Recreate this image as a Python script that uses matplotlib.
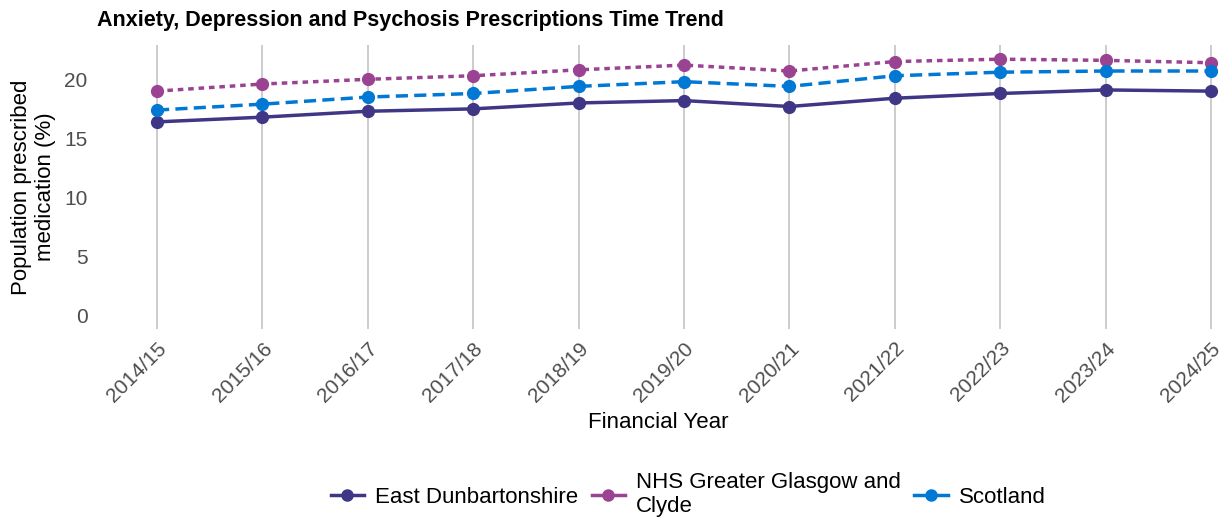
import matplotlib
matplotlib.use("Agg")
import matplotlib.pyplot as plt
from matplotlib.lines import Line2D

plt.rcParams['font.family'] = ['Liberation Sans', 'DejaVu Sans']

# ── data ──────────────────────────────────────────────────────────────────
years = ['2014/15', '2015/16', '2016/17', '2017/18', '2018/19', '2019/20',
         '2020/21', '2021/22', '2022/23', '2023/24', '2024/25']
east_dunbartonshire = [16.4, 16.8, 17.3, 17.5, 18.0, 18.2, 17.7, 18.4, 18.8, 19.1, 19.0]
nhs_ggc = [19.0, 19.6, 20.0, 20.3, 20.8, 21.2, 20.7, 21.5, 21.7, 21.6, 21.4]
scotland = [17.4, 17.9, 18.5, 18.8, 19.4, 19.8, 19.4, 20.3, 20.6, 20.7, 20.7]

series = [
    ('East Dunbartonshire', east_dunbartonshire, '#3F3685', '-'),
    ('NHS Greater Glasgow and\nClyde', nhs_ggc, '#9B4393', (0, (1.6, 1.4))),
    ('Scotland', scotland, '#0078D4', (0, (3.5, 1.8))),
]

fig = plt.figure(figsize=(12.29, 5.23), dpi=100)
ax = fig.add_axes([0.078, 0.371, 0.916, 0.543])

x = list(range(len(years)))
handles = []
for name, vals, col, ls in series:
    ax.plot(x, vals, color=col, lw=2.5, ls=ls, marker='o', ms=8.5, zorder=3)
    handles.append(Line2D([], [], color=col, lw=2.5, marker='o', ms=8, label=name))

ax.set_xlim(-0.58, 10.1)
ax.set_ylim(-1.1, 22.9)
ax.set_yticks([0, 5, 10, 15, 20])
ax.set_xticks(x)
ax.set_xticklabels(years, rotation=45, ha='right', rotation_mode='anchor')
ax.tick_params(axis='both', length=0, labelsize=15, labelcolor='#4D4D4D')
ax.tick_params(axis='x', pad=7)
ax.tick_params(axis='y', pad=6)
ax.grid(axis='x', color='#C8C8C8', lw=1.3)
ax.grid(axis='y', visible=False)
for s in ax.spines.values():
    s.set_visible(False)

ax.set_xlabel('Financial Year', fontsize=16, labelpad=5)
ax.set_ylabel('Population prescribed\nmedication (%)', fontsize=16, labelpad=6)
fig.text(0.079, 0.96, 'Anxiety, Depression and Psychosis Prescriptions Time Trend',
         fontsize=15.5, fontweight='bold', va='center', ha='left')

fig.legend(handles=handles, loc='center', bbox_to_anchor=(0.56, 0.054), ncol=3,
           frameon=False, fontsize=16, handlelength=1.5, columnspacing=0.6,
           handletextpad=0.5)

fig.savefig('out.png', dpi=100)
